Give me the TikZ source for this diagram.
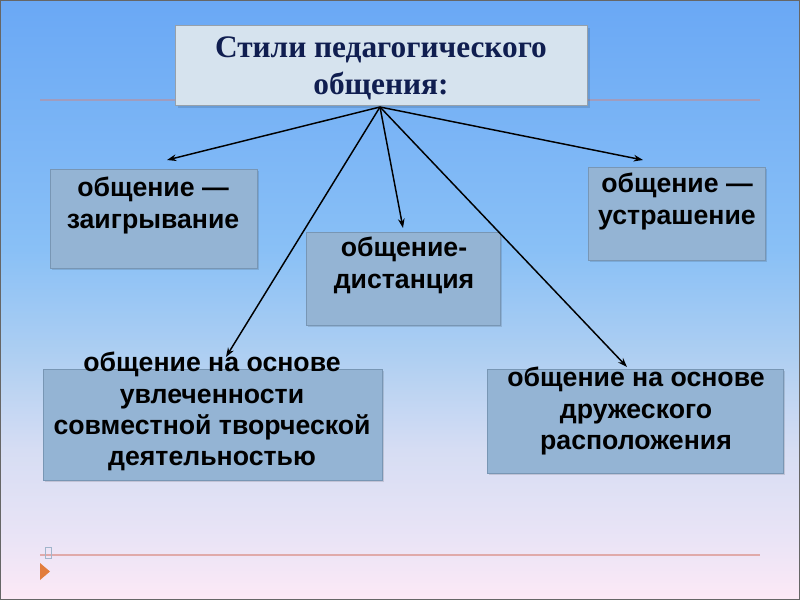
\documentclass[tikz,border=0pt]{standalone}
\usepackage{fontspec}
\setmainfont{Liberation Serif}
\newfontfamily\boxfont{Liberation Sans}
\usetikzlibrary{arrows.meta}
\definecolor{bgA}{RGB}{106,168,245}
\definecolor{bgB}{RGB}{137,192,246}
\definecolor{bgC}{RGB}{172,206,242}
\definecolor{bgD}{RGB}{214,221,243}
\definecolor{bgE}{RGB}{234,228,246}
\definecolor{bgF}{RGB}{253,233,246}
\pgfdeclareverticalshading{slidebg}{100bp}{color(0bp)=(bgF); color(25bp)=(bgF); color(30bp)=(bgE); color(37.5bp)=(bgD); color(45.8bp)=(bgC); color(54.2bp)=(bgB); color(75bp)=(bgA); color(100bp)=(bgA)}
\definecolor{titlefill}{RGB}{214,227,238}
\definecolor{titleborder}{RGB}{150,160,170}
\definecolor{titletext}{RGB}{16,30,80}
\definecolor{boxfill}{RGB}{148,180,212}
\definecolor{boxborder}{RGB}{120,150,180}
\definecolor{ruleblue}{RGB}{160,156,190}
\definecolor{rulepink}{RGB}{224,170,170}
\definecolor{triorange}{RGB}{226,124,60}
\tikzset{
  titlebox/.style={draw=titleborder, fill=titlefill, line width=0.8pt},
  stylebox/.style={draw=boxborder, fill=boxfill, line width=0.8pt},
  boxtext/.style={font=\boxfont\bfseries\fontsize{20}{23.5}\selectfont, align=center, text=black, inner sep=0pt},
  link/.style={line width=1.1pt, draw=black, -{Stealth[length=7pt,width=5pt]}},
  shadowbox/.style={fill=black, fill opacity=0.12, draw=none}
}
\begin{document}
\begin{tikzpicture}[x=0.75pt,y=-0.75pt]
\useasboundingbox (0,0) rectangle (800,600);
% background
\shade[shading=slidebg] (0,0) rectangle (800,600);
\draw[draw=gray!80!black, line width=1.2pt] (0.6,0.6) rectangle (799.4,599.4);
% rules
\draw[ruleblue, line width=1.5pt] (40,100) -- (760,100);
\draw[rulepink, line width=1.3pt] (40,555) -- (760,555);
\draw[draw=boxborder!70, line width=0.6pt] (45,547) rectangle (51,558);
\fill[triorange] (40,563) -- (50,571.5) -- (40,580) -- cycle;
% title box
\fill[shadowbox] (178,28) rectangle (590,108);
\node[titlebox, minimum width=412*0.75pt, minimum height=80*0.75pt, anchor=north west, inner sep=0pt] (title) at (175,25) {};
\node[font=\bfseries\fontsize{23.5}{27.75}\selectfont, text=titletext, align=center, inner sep=0pt, anchor=north] (titletxt) at (381,36) {Стили педагогического\\общения:};
% boxes
\fill[shadowbox] (52,171) rectangle (259,270);
\node[stylebox, anchor=north west, minimum width=207*0.75pt, minimum height=99*0.75pt, inner sep=0pt] (b1) at (50,169) {};
\node[boxtext, anchor=north] (t1) at (153,177) {общение —\\заигрывание};

\fill[shadowbox] (308,234) rectangle (502,327);
\node[stylebox, anchor=north west, minimum width=194*0.75pt, minimum height=93*0.75pt, inner sep=0pt] (b2) at (306,232) {};
\node[boxtext, anchor=north] (t2) at (404,237) {общение-\\дистанция};

\fill[shadowbox] (590,169) rectangle (767,262);
\node[stylebox, anchor=north west, minimum width=177*0.75pt, minimum height=93*0.75pt, inner sep=0pt] (b3) at (588,167) {};
\node[boxtext, anchor=north] (t3) at (677,173) {общение —\\устрашение};

\fill[shadowbox] (45,371) rectangle (384,482);
\node[stylebox, anchor=north west, minimum width=339*0.75pt, minimum height=111*0.75pt, inner sep=0pt] (b4) at (43,369) {};
\node[boxtext, anchor=north] (t4) at (212,352) {общение на основе\\увлеченности\\совместной творческой\\деятельностью};

\fill[shadowbox] (489,371) rectangle (785,475);
\node[stylebox, anchor=north west, minimum width=296*0.75pt, minimum height=104*0.75pt, inner sep=0pt] (b5) at (487,369) {};
\node[boxtext, anchor=north] (t5) at (636,367) {общение на основе\\дружеского\\расположения};
% connectors
\coordinate (hub) at (380,107);
\coordinate (e1) at (167,160);
\coordinate (e2) at (403,228);
\coordinate (e3) at (643,160);
\coordinate (e4) at (226,357);
\coordinate (e5) at (627,367);
\draw[link] (hub) -- (e1);
\draw[link] (hub) -- (e2);
\draw[link] (hub) -- (e3);
\draw[link] (hub) -- (e4);
\draw[link] (hub) -- (e5);
\end{tikzpicture}
\end{document}
